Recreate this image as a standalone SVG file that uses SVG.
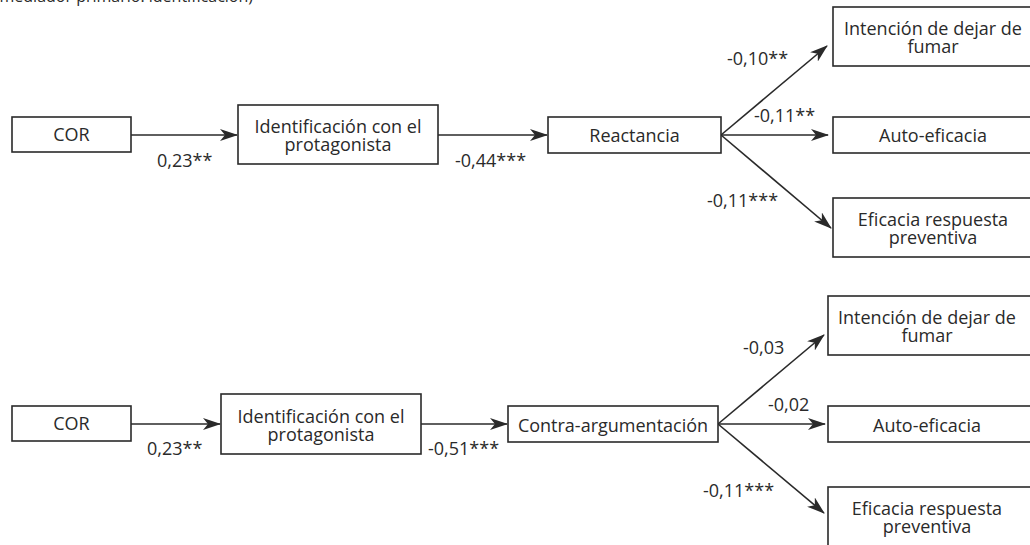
<svg xmlns="http://www.w3.org/2000/svg" width="1030" height="545" viewBox="0 0 1030 545">
<style>
text{font-family:"Open Sans","Noto Sans",sans-serif;font-size:18px;fill:#2a2a2a}
.c{text-anchor:middle}
.box{fill:#fff;stroke:#2a2a2a;stroke-width:1.6}
.ln{fill:none;stroke:#2a2a2a;stroke-width:1.6;marker-end:url(#ah)}
.lab{font-size:18px}
</style>
<defs>
<marker id="ah" markerUnits="userSpaceOnUse" markerWidth="18" markerHeight="12" viewBox="0 0 18 12" refX="17" refY="6" orient="auto">
<path d="M0,0 L18,6 L0,12 L5,6 z" fill="#2a2a2a"/>
</marker>
</defs>
<rect width="1030" height="545" fill="#fff"/>
<text x="253" y="1.5" style="text-anchor:end;font-size:16px">(mediador primario: identificación)</text>
<g id="connectors">
<line class="ln" x1="131" y1="135" x2="237" y2="135"/>
<line class="ln" x1="438" y1="135" x2="547" y2="135"/>
<line class="ln" x1="721" y1="135" x2="827" y2="46"/>
<line class="ln" x1="721" y1="135" x2="828" y2="135"/>
<line class="ln" x1="721" y1="135" x2="831" y2="228"/>
<text class="lab" x="157" y="167">0,23**</text>
<text class="lab" x="455" y="167">-0,44***</text>
<text class="lab" x="727" y="65">-0,10**</text>
<text class="lab" x="754" y="122">-0,11**</text>
<text class="lab" x="707" y="207">-0,11***</text>
<line class="ln" x1="131" y1="424" x2="220" y2="424"/>
<line class="ln" x1="421" y1="424" x2="507" y2="424"/>
<line class="ln" x1="718" y1="424" x2="824" y2="335"/>
<line class="ln" x1="718" y1="424" x2="825" y2="424"/>
<line class="ln" x1="718" y1="424" x2="824" y2="513"/>
<text class="lab" x="147" y="455">0,23**</text>
<text class="lab" x="428" y="455">-0,51***</text>
<text class="lab" x="743" y="354">-0,03</text>
<text class="lab" x="768" y="411">-0,02</text>
<text class="lab" x="703" y="497">-0,11***</text>
</g>
<g id="cor1"><rect class="box" x="12" y="117" width="119" height="35"/><text class="c" x="71.5" y="141">COR</text></g>
<g id="ident1"><rect class="box" x="238" y="105" width="200" height="59"/><text class="c" x="338" y="133">Identificación con el</text><text class="c" x="338" y="151">protagonista</text></g>
<g id="reactancia"><rect class="box" x="548" y="117" width="173" height="36"/><text class="c" x="634.5" y="142">Reactancia</text></g>
<g id="intencion1"><rect class="box" x="833" y="7" width="205" height="59"/><text class="c" x="933" y="35">Intención de dejar de</text><text class="c" x="933" y="53">fumar</text></g>
<g id="auto1"><rect class="box" x="833" y="117" width="205" height="36"/><text class="c" x="933" y="142">Auto-eficacia</text></g>
<g id="eficacia1"><rect class="box" x="833" y="198" width="205" height="59"/><text class="c" x="933" y="226">Eficacia respuesta</text><text class="c" x="933" y="244">preventiva</text></g>
<g id="cor2"><rect class="box" x="12" y="406" width="119" height="35"/><text class="c" x="71.5" y="430">COR</text></g>
<g id="ident2"><rect class="box" x="221" y="394" width="200" height="60"/><text class="c" x="321" y="422.5">Identificación con el</text><text class="c" x="321" y="440.5">protagonista</text></g>
<g id="contra"><rect class="box" x="508" y="406" width="210" height="36"/><text class="c" x="613" y="432">Contra-argumentación</text></g>
<g id="intencion2"><rect class="box" x="828" y="296" width="210" height="59"/><text class="c" x="927" y="324">Intención de dejar de</text><text class="c" x="927" y="342">fumar</text></g>
<g id="auto2"><rect class="box" x="828" y="406" width="210" height="36"/><text class="c" x="927" y="432">Auto-eficacia</text></g>
<g id="eficacia2"><rect class="box" x="828" y="487" width="210" height="62"/><text class="c" x="927" y="515">Eficacia respuesta</text><text class="c" x="927" y="533">preventiva</text></g>
</svg>
